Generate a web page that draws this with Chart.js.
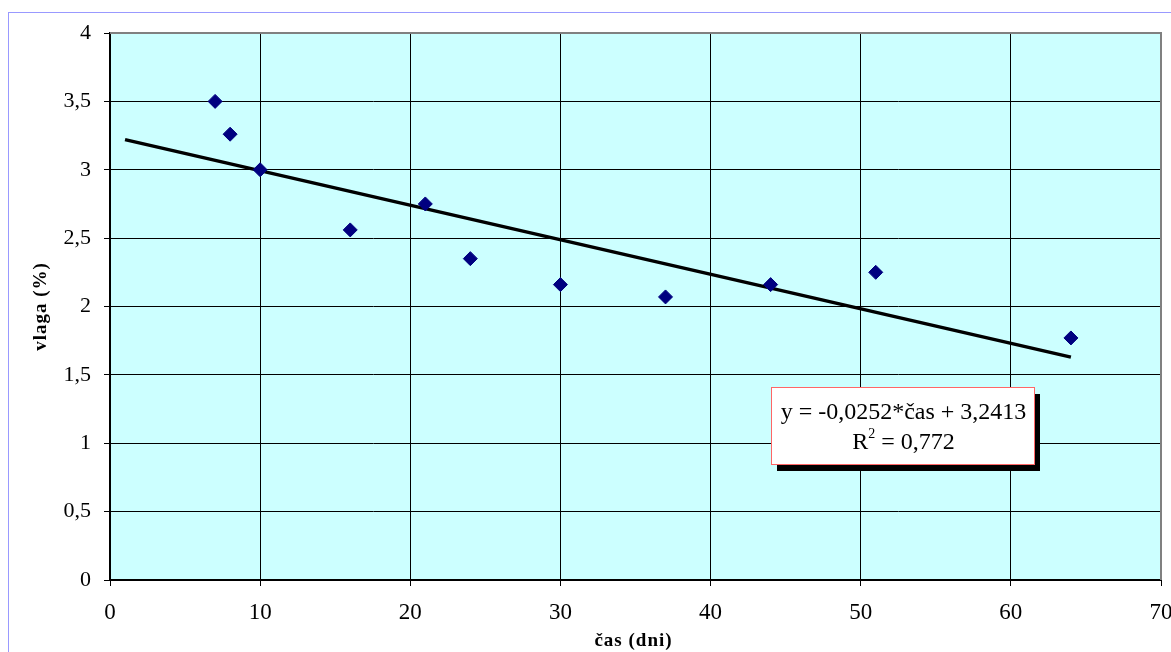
<!DOCTYPE html>
<html>
<head>
<meta charset="utf-8">
<script src="https://cdn.jsdelivr.net/npm/chart.js@4"></script>
<style>
  body { margin: 0; background: #fff; }
  canvas { display: block; }
</style>
</head>
<body>
<canvas id="chart" width="1171" height="652"></canvas>
<script>
// measured values: cas (days) vs vlaga (%)
const days = [7, 8, 10, 16, 21, 24, 30, 37, 44, 51, 64];
const moisture = [3.5, 3.26, 3.0, 2.56, 2.75, 2.35, 2.16, 2.07, 2.16, 2.25, 1.77];

// linear trend line end points
const trendDays = [1, 64];
const trendMoisture = [3.22, 1.63];

const xTickValues = [0, 10, 20, 30, 40, 50, 60, 70];
const yTickValues = [0, 0.5, 1, 1.5, 2, 2.5, 3, 3.5, 4];

const xTitle = "čas (dni)";
const yTitle = "vlaga (%)";
const equationText = "y = -0,0252*čas + 3,2413";
const r2Value = "0,772";

const serif = "'Liberation Serif', 'Times New Roman', serif";

const fmt = (v) => String(v).replace(".", ",");

const decorPlugin = {
  id: "decor",
  beforeDraw(chart) {
    const { ctx, chartArea: a } = chart;
    ctx.save();
    ctx.fillStyle = "#fff";
    ctx.fillRect(0, 0, chart.width, chart.height);
    ctx.strokeStyle = "#9999ff";
    ctx.lineWidth = 1;
    ctx.strokeRect(8.5, 12.5, chart.width + 20, chart.height + 20);
    ctx.fillStyle = "#ccffff";
    ctx.fillRect(a.left, a.top, a.right - a.left, a.bottom - a.top);
    ctx.restore();
  },
  beforeDatasetsDraw(chart) {
    const { ctx, chartArea: a } = chart;
    ctx.save();
    ctx.strokeStyle = "#808080";
    ctx.lineWidth = 2;
    ctx.beginPath();
    ctx.moveTo(a.left, a.top);
    ctx.lineTo(a.right, a.top);
    ctx.lineTo(a.right, a.bottom);
    ctx.stroke();
    ctx.restore();
  },
  afterDraw(chart) {
    const { ctx, chartArea: a } = chart;
    ctx.save();
    // axis titles
    ctx.fillStyle = "#000";
    ctx.font = "bold 19px " + serif;
    ctx.letterSpacing = "1px";
    ctx.textAlign = "center";
    ctx.textBaseline = "alphabetic";
    ctx.fillText(xTitle, (a.left + a.right) / 2 - 2, 646);
    ctx.save();
    ctx.translate(46, (a.top + a.bottom) / 2);
    ctx.rotate(-Math.PI / 2);
    ctx.font = "bold 19px " + serif;
    ctx.fillText(yTitle, 0, 0);
    ctx.restore();
    ctx.letterSpacing = "0px";

    // equation box
    const bx = 771, by = 387, bw = 263, bh = 77;
    ctx.fillStyle = "#000";
    ctx.fillRect(bx + 6, by + 7, bw, bh);
    ctx.fillStyle = "#fff";
    ctx.fillRect(bx, by, bw, bh);
    ctx.strokeStyle = "#ff6666";
    ctx.lineWidth = 1;
    ctx.strokeRect(bx + 0.5, by + 0.5, bw, bh);

    ctx.fillStyle = "#000";
    ctx.font = "24px " + serif;
    ctx.textAlign = "center";
    ctx.textBaseline = "middle";
    const cx = bx + bw / 2 + 1;
    ctx.fillText(equationText, cx, by + 26);

    const rPart = "R";
    const rest = " = " + r2Value;
    const wR = ctx.measureText(rPart).width;
    const wRest = ctx.measureText(rest).width;
    ctx.font = "14px " + serif;
    const wSup = ctx.measureText("2").width;
    const x0 = cx - (wR + wSup + wRest) / 2;
    ctx.textAlign = "left";
    ctx.font = "24px " + serif;
    ctx.fillText(rPart, x0, by + 56);
    ctx.font = "14px " + serif;
    ctx.fillText("2", x0 + wR, by + 47);
    ctx.font = "24px " + serif;
    ctx.fillText(rest, x0 + wR + wSup, by + 56);
    ctx.restore();
  },
};

const config = {
  type: "scatter",
  data: {
    datasets: [
      {
        label: "vlaga",
        data: days.map((d, i) => ({ x: d, y: moisture[i] })),
        pointStyle: "rectRot",
        pointRadius: 7,
        pointHoverRadius: 7,
        backgroundColor: "#000080",
        borderColor: "#000080",
        borderWidth: 1,
        order: 1,
      },
      {
        label: "trend",
        type: "line",
        data: trendDays.map((d, i) => ({ x: d, y: trendMoisture[i] })),
        borderColor: "#000",
        borderWidth: 3.5,
        pointRadius: 0,
        fill: false,
        order: 2,
      },
    ],
  },
  options: {
    responsive: false,
    animation: false,
    devicePixelRatio: 1,
    layout: {
      padding: { top: 33, right: 10, left: 0, bottom: 0 },
    },
    scales: {
      x: {
        type: "linear",
        min: 0,
        max: 70,
        afterBuildTicks: (axis) => {
          axis.ticks = xTickValues.map((v) => ({ value: v }));
        },
        afterFit: (axis) => {
          axis.height = 72;
          axis.paddingLeft = 0;
          axis.paddingRight = 0;
        },
        ticks: {
          padding: 13,
          color: "#000",
          font: { family: serif, size: 23 },
          callback: (v) => fmt(v),
          maxRotation: 0,
        },
        grid: {
          color: "#000",
          lineWidth: 1,
          tickLength: 6,
        },
        border: { color: "#000", width: 2 },
      },
      y: {
        type: "linear",
        min: 0,
        max: 4,
        afterBuildTicks: (axis) => {
          axis.ticks = yTickValues.map((v) => ({ value: v }));
        },
        afterFit: (axis) => {
          axis.width = 110;
          axis.paddingTop = 0;
          axis.paddingBottom = 0;
        },
        ticks: {
          padding: 13,
          color: "#000",
          font: { family: serif, size: 22 },
          callback: (v) => fmt(v),
        },
        grid: {
          color: "#000",
          lineWidth: 1,
          tickLength: 6,
        },
        border: { color: "#000", width: 2 },
      },
    },
    plugins: {
      legend: { display: false },
      tooltip: { enabled: false },
      title: { display: false },
    },
  },
  plugins: [decorPlugin],
};

function createChart(selector) {
  return new Chart(document.querySelector(selector), config);
}

createChart("#chart");
</script>
</body>
</html>
